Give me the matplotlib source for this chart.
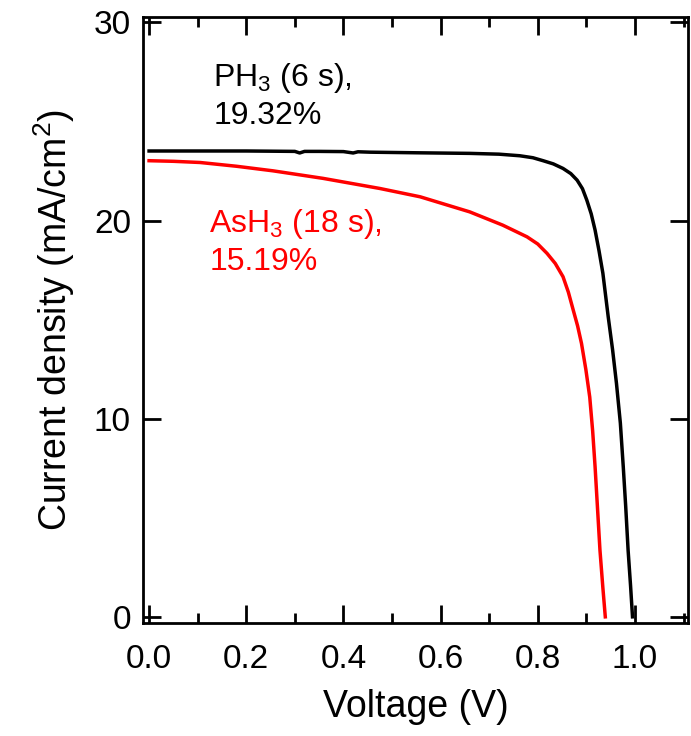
import matplotlib
matplotlib.use("Agg")
import matplotlib.pyplot as plt
from matplotlib.ticker import MultipleLocator

plt.rcParams['font.family'] = ['Liberation Sans', 'DejaVu Sans']
plt.rcParams['mathtext.fontset'] = 'custom'
plt.rcParams['mathtext.rm'] = 'Liberation Sans'
plt.rcParams['mathtext.it'] = 'Liberation Sans:italic'
plt.rcParams['mathtext.default'] = 'regular'

# PH3 (6 s) J-V curve
ph3_v = [0.0, 0.05, 0.10, 0.15, 0.20, 0.25, 0.30, 0.31, 0.32, 0.35, 0.40, 0.42, 0.43,
         0.455, 0.55, 0.66, 0.72, 0.763, 0.79, 0.811, 0.832, 0.852, 0.868, 0.881,
         0.892, 0.901, 0.910, 0.918, 0.926, 0.934, 0.945, 0.954, 0.962, 0.970,
         0.976, 0.981, 0.986, 0.991, 0.995]
ph3_j = [23.52, 23.52, 23.52, 23.52, 23.52, 23.51, 23.50, 23.42, 23.50, 23.50, 23.49,
         23.42, 23.48, 23.46, 23.43, 23.40, 23.36, 23.28, 23.18, 23.03, 22.87, 22.64,
         22.38, 22.05, 21.62, 21.04, 20.35, 19.53, 18.50, 17.36, 15.16, 13.50,
         11.80, 9.80, 7.59, 5.60, 3.37, 1.60, 0.03]

# AsH3 (18 s) J-V curve
ash3_v = [0.0, 0.05, 0.105, 0.18, 0.255, 0.358, 0.475, 0.558, 0.66, 0.728, 0.778,
          0.800, 0.819, 0.836, 0.852, 0.863, 0.873, 0.882, 0.890, 0.899, 0.907,
          0.913, 0.918, 0.923, 0.928, 0.934, 0.939]
ash3_j = [23.03, 23.00, 22.94, 22.75, 22.52, 22.14, 21.63, 21.21, 20.45, 19.78, 19.19,
          18.83, 18.36, 17.85, 17.18, 16.40, 15.50, 14.70, 13.82, 12.50, 11.11,
          9.40, 7.59, 5.50, 3.40, 1.50, 0.03]

xtick_vals = [0.0, 0.2, 0.4, 0.6, 0.8, 1.0]
xtick_labels = ['0.0', '0.2', '0.4', '0.6', '0.8', '1.0']
ytick_vals = [0, 10, 20, 30]
ytick_labels = ['0', '10', '20', '30']

fig = plt.figure(figsize=(6.91, 7.36), dpi=100)
ax = fig.add_axes([0.2075, 0.153, 0.788, 0.824])

ax.plot(ph3_v, ph3_j, color='black', lw=2.5, solid_joinstyle='round')
ax.plot(ash3_v, ash3_j, color='#ff0000', lw=2.5, solid_joinstyle='round')

ax.set_xlim(-0.0117, 1.109)
ax.set_ylim(-0.30, 30.28)
ax.xaxis.set_minor_locator(MultipleLocator(0.1))
ax.set_xticks(xtick_vals)
ax.set_xticklabels(xtick_labels)
ax.set_yticks(ytick_vals)
ax.set_yticklabels(ytick_labels)

for s in ax.spines.values():
    s.set_linewidth(2.0)
ax.tick_params(which='both', direction='in', top=True, right=True, width=2.0,
               labelsize=24)
ax.tick_params(axis='x', pad=15)
ax.tick_params(axis='y', pad=9)
ax.tick_params(which='major', length=13)
ax.tick_params(which='minor', length=7)

ax.set_xlabel('Voltage (V)', fontsize=27, labelpad=10)
ax.set_ylabel('Current density (mA/cm$^{2}$)', fontsize=27, labelpad=12)

ax.text(0.132, 28.05, 'PH$_3$ (6 s),\n19.32%', fontsize=23, color='black',
        ha='left', va='top', linespacing=1.25)
ax.text(0.124, 20.7, 'AsH$_3$ (18 s),\n15.19%', fontsize=23, color='#ff0000',
        ha='left', va='top', linespacing=1.25)

fig.savefig('out.png', dpi=100)
